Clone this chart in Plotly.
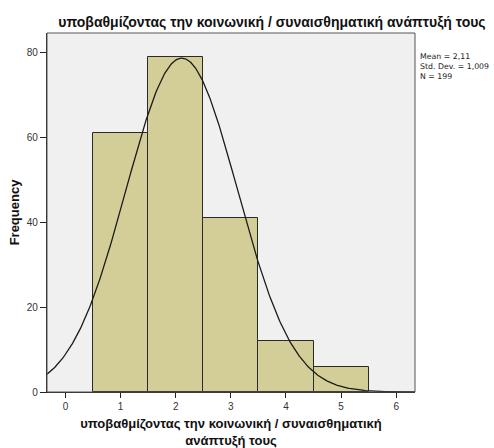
import numpy as np
import plotly.graph_objects as go

# Histogram bins (centres) and their counts
bin_centers = [1, 2, 3, 4, 5]
counts = [61, 79, 41, 12, 6]

# Summary statistics shown beside the chart
mean_val = 2.11
std_val = 1.009
n_val = 199

title_text = "υποβαθμίζοντας την κοινωνική / συναισθηματική ανάπτυξή τους"
x_title = "υποβαθμίζοντας την κοινωνική / συναισθηματική<br>ανάπτυξή τους"
x_ticks = [0, 1, 2, 3, 4, 5, 6]
y_ticks = [0, 20, 40, 60, 80]

x_range = [-0.334, 6.34]
y_range = [0, 84.6]

# Fitted normal curve scaled to counts (bin width 1)
xs = np.linspace(x_range[0], x_range[1], 400)
ys = n_val * 1.0 / (std_val * np.sqrt(2 * np.pi)) * np.exp(-0.5 * ((xs - mean_val) / std_val) ** 2)

fig = go.Figure()
fig.add_trace(go.Bar(
    x=bin_centers, y=counts, width=1,
    marker=dict(color="#D3CE98", line=dict(color="#2a2a2a", width=1)),
    hoverinfo="x+y",
))
fig.add_trace(go.Scatter(
    x=xs, y=ys, mode="lines",
    line=dict(color="#1a1a1a", width=1.3),
    hoverinfo="skip",
))

font_family = "Liberation Sans, Arial, sans-serif"
plot_top, plot_bottom = 32.7, 392.3

fig.update_layout(
    width=494, height=448,
    margin=dict(l=47, r=79, t=33, b=56),
    paper_bgcolor="white",
    plot_bgcolor="#F0F0F0",
    showlegend=False,
    bargap=0,
    font=dict(family=font_family, color="#222"),
    title=dict(
        text=f"<b>{title_text}</b>",
        x=272 / 494, xanchor="center", xref="container",
        y=1 - 22 / 448, yanchor="middle", yref="container",
        font=dict(size=14, color="#111"),
    ),
    xaxis=dict(
        range=x_range, tickvals=x_ticks, ticks="outside", ticklen=5,
        tickcolor="#222", tickfont=dict(size=10, color="#333"),
        showgrid=False, zeroline=False, automargin=False,
        showline=True, linecolor="#222", linewidth=1.2,
        title=dict(text=f"<b>{x_title}</b>", font=dict(size=13, color="#111"), standoff=10),
    ),
    yaxis=dict(
        range=y_range, tickvals=y_ticks, ticks="outside", ticklen=6,
        tickcolor="#222", tickfont=dict(size=10, color="#333"),
        showgrid=False, zeroline=False, automargin=False,
        showline=True, linecolor="#222", linewidth=1.2,
        title=dict(text="<b>Frequency</b>", font=dict(size=13, color="#111"), standoff=4),
    ),
)

# Frame on the top and right of the plotting area
fig.add_shape(type="rect", xref="paper", yref="paper", x0=0, y0=0, x1=1, y1=1,
              line=dict(color="#555", width=1), fillcolor="rgba(0,0,0,0)", layer="above")

# Statistics block to the right of the plot
stat_text = "<br>".join([
    f"Mean = {str(mean_val).replace('.', ',')}",
    f"Std. Dev. = {str(std_val).replace('.', ',')}",
    f"N = {n_val}",
])
fig.add_annotation(
    xref="paper", yref="paper", x=1, y=(plot_bottom - 50) / (plot_bottom - plot_top),
    xanchor="left", yanchor="top", xshift=3, align="left", showarrow=False,
    text=stat_text, font=dict(family="DejaVu Sans, sans-serif", size=7.8, color="#222"),
)

fig.write_html("out.html")
